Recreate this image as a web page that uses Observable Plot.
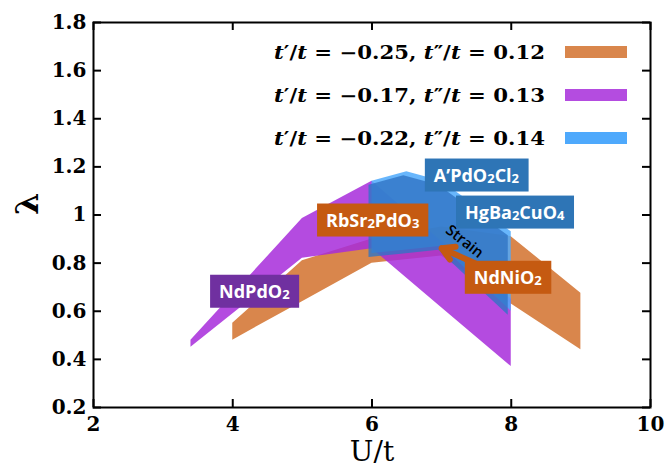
<!DOCTYPE html>
<html><head><meta charset="utf-8">
<script src="https://cdn.jsdelivr.net/npm/d3@7"></script>
<script src="https://cdn.jsdelivr.net/npm/@observablehq/plot@0.6"></script>
<style>body{margin:0;background:#fff} #chart{width:665px;height:471px}</style>
</head><body><div id="chart"></div>
<script>
// ---- data ----
const uOrange  = [4, 5, 6, 7, 8, 9];
const loOrange = [0.48, 0.64, 0.80, 0.83, 0.63, 0.44];
const hiOrange = [0.55, 0.81, 0.90, 0.95, 0.91, 0.675];

const uPurple  = [3.4, 5, 6, 7, 8];
const loPurple = [0.45, 0.82, 0.86, 0.615, 0.37];
const hiPurple = [0.48, 0.985, 1.14, 0.89, 0.65];

const uBlue  = [6, 6.5, 7, 8];
const loBlue = [0.84, 0.855, 0.87, 0.60];
const hiBlue = [1.14, 1.18, 1.14, 0.93];

const tPrime  = ["−0.25", "−0.17", "−0.22"];
const tDouble = ["0.12", "0.13", "0.14"];

const labelNames  = ["NdPdO_2", "RbSr_2PdO_3", "A’PdO_2Cl_2", "HgBa_2CuO_4", "NdNiO_2"];
const labelU      = [4.31, 6.01, 7.50, 8.05, 7.95];
const labelL      = [0.678, 0.974, 1.161, 1.007, 0.736];
const labelColors = ["#7030a0", "#c55a11", "#2e75b6", "#2e75b6", "#c55a11"];

const strainText = ["Strain"];
const strainU = [7.33], strainL = [0.89];
const arrowFrom = [7.55, 0.79], arrowTo = [7.0, 0.862];

const xTicks = [2, 4, 6, 8, 10];
const yTicks = [0.2, 0.4, 0.6, 0.8, 1.0, 1.2, 1.4, 1.6, 1.8];

// ---- layout / style ----
const W = 665, H = 471, mT = 22, mR = 15, mB = 64, mL = 93;
const innerW = W - mL - mR, innerH = H - mT - mB;
const colOrange = "#d9864c", colPurple = "#a72cda", colBlueLight = "#4ea9fc", colBlue = "#2f74c4";
const swatches = ["#d9864c", "#b44ce0", "#4ea9fc"];

const rows = (u, lo, hi) => u.map((x, i) => ({u: x, lo: lo[i], hi: hi[i]}));
const orange = rows(uOrange, loOrange, hiOrange);
const purple = rows(uPurple, loPurple, hiPurple);
const blue = rows(uBlue, loBlue, hiBlue);
const labels = labelNames.map((n, i) => ({name: n, u: labelU[i], l: labelL[i], color: labelColors[i]}));
const strain = strainText.map((s, i) => ({s, u: strainU[i], l: strainL[i]}));
const arrows = [{x1: arrowFrom[0], y1: arrowFrom[1], x2: arrowTo[0], y2: arrowTo[1]}];

const chart = Plot.plot({
  width: W, height: H, marginTop: mT, marginRight: mR, marginBottom: mB, marginLeft: mL,
  x: {domain: [2, 10]},
  y: {domain: [0.2, 1.8]},
  style: {fontFamily: "DejaVu Serif", background: "white", color: "black", overflow: "visible"},
  marks: [
    Plot.areaY(orange, {x: "u", y1: "lo", y2: "hi", fill: colOrange}),
    Plot.areaY(purple, {x: "u", y1: "lo", y2: "hi", fill: colPurple, fillOpacity: 0.85}),
    Plot.areaY(blue, {x: "u", y1: "lo", y2: "hi", fill: colBlueLight, fillOpacity: 0.85}),
    Plot.areaY(blue, {x: "u", y1: "lo", y2: "hi", fill: colBlue, fillOpacity: 0.8, dx: -3, dy: 4}),
    Plot.arrow(arrows, {x1: "x1", y1: "y1", x2: "x2", y2: "y2", stroke: "#c55a11", strokeWidth: 6, headLength: 9}),
    Plot.text(strain, {x: "u", y: "l", text: "s", rotate: 38, fontSize: 15, fontFamily: "Open Sans", fontWeight: 600, fill: "black"}),
    Plot.text(labels, {x: "u", y: "l", text: "name", fill: "white", fontFamily: "Open Sans", fontWeight: "bold", fontSize: 18, className: "boxlabel"}),
    Plot.tickX(xTicks, {x: d => d, insetTop: innerH - 8, stroke: "black", strokeWidth: 2}),
    Plot.tickX(xTicks, {x: d => d, insetBottom: innerH - 8, stroke: "black", strokeWidth: 2}),
    Plot.tickY(yTicks, {y: d => d, insetRight: innerW - 8, stroke: "black", strokeWidth: 2}),
    Plot.tickY(yTicks, {y: d => d, insetLeft: innerW - 8, stroke: "black", strokeWidth: 2}),
    Plot.frame({stroke: "black", strokeWidth: 2}),
    Plot.axisX({ticks: xTicks, tickSize: 0, tickPadding: 9, fontSize: 20, fontWeight: "bold", label: null}),
    Plot.axisY({ticks: yTicks, tickSize: 0, tickPadding: 7, fontSize: 20, fontWeight: "bold", label: null, tickFormat: d => String(+d.toFixed(1))}),
    Plot.text(["U/t"], {text: d => d, frameAnchor: "bottom", dy: 53, fontSize: 28}),
    Plot.text(["λ"], {text: d => d, frameAnchor: "left", dx: -66, rotate: -90, fontSize: 32, fontWeight: "bold"})
  ]
});
document.getElementById("chart").appendChild(chart);

const ns = "http://www.w3.org/2000/svg";
// label boxes with subscripts
d3.select(chart).selectAll("g.boxlabel text").each(function(_, i) {
  const el = this;
  const s = labels[i].name;
  el.textContent = "";
  const parts = s.split(/_(\d)/);
  let shifted = false;
  parts.forEach((p, j) => {
    if (!p) return;
    const ts = document.createElementNS(ns, "tspan");
    ts.textContent = p;
    if (j % 2 === 1) { ts.setAttribute("font-size", "13"); ts.setAttribute("dy", "1"); shifted = true; }
    else if (shifted) { ts.setAttribute("dy", "-1"); shifted = false; }
    el.appendChild(ts);
  });
  const bb = el.getBBox();
  const r = document.createElementNS(ns, "rect");
  const cy = bb.y + bb.height / 2;
  r.setAttribute("x", bb.x - 9);
  r.setAttribute("width", bb.width + 18);
  r.setAttribute("y", cy - 16.5);
  r.setAttribute("height", 33);
  r.setAttribute("fill", labels[i].color);
  const tr = el.getAttribute("transform");
  if (tr) r.setAttribute("transform", tr);
  el.parentNode.insertBefore(r, el);
});

// legend inside plot (top-right)
const xr = W - mR;
const lg = d3.select(chart).append("g").attr("font-family", "DejaVu Serif").attr("font-size", 18)
  .attr("font-weight", "bold").attr("fill", "black").attr("text-anchor", "start");
tPrime.forEach((tp, i) => {
  const cy = mT + 30 + i * 43;
  const t = lg.append("text").attr("x", xr - 376).attr("y", cy + 7).attr("text-anchor", "start")
    .attr("textLength", 271).attr("lengthAdjust", "spacingAndGlyphs");
  t.append("tspan").attr("font-style", "italic").text("t");
  t.append("tspan").text("′/");
  t.append("tspan").attr("font-style", "italic").text("t");
  t.append("tspan").text(" = " + tp + ", ");
  t.append("tspan").attr("font-style", "italic").text("t");
  t.append("tspan").text("″/");
  t.append("tspan").attr("font-style", "italic").text("t");
  t.append("tspan").text(" = " + tDouble[i]);
  lg.append("rect").attr("x", xr - 85).attr("y", cy - 6).attr("width", 62).attr("height", 12).attr("fill", swatches[i]);
});
</script>
</body></html>
